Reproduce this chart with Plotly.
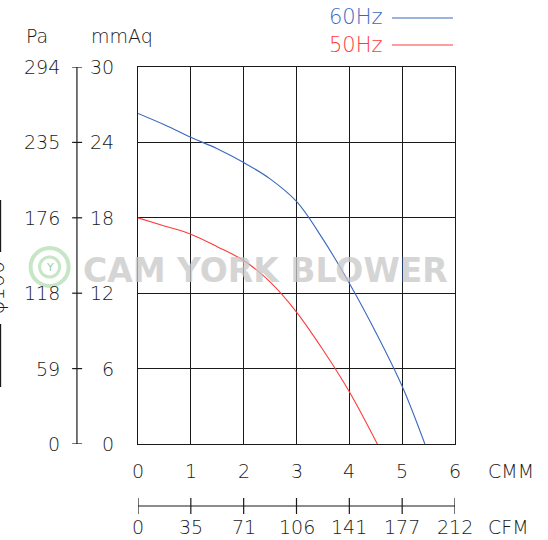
import plotly.graph_objects as go

# ---- data ----
cmm_60 = [0, 0.5, 1, 1.5, 2, 2.5, 3, 3.5, 4, 4.5, 5, 5.43]
p_60 = [26.3, 25.4, 24.4, 23.5, 22.4, 21.1, 19.3, 16.3, 12.8, 8.9, 4.6, 0]
cmm_50 = [0, 0.5, 1, 1.5, 2, 2.5, 3, 3.5, 4, 4.53]
p_50 = [18.0, 17.35, 16.7, 15.7, 14.6, 12.9, 10.5, 7.5, 4.16, 0]

cmm_ticks = [0, 1, 2, 3, 4, 5, 6]
cfm_labels = ["0", "35", "71", "106", "141", "177", "212"]
mmaq_ticks = [0, 6, 12, 18, 24, 30]
pa_labels = ["0", "59", "118", "176", "235", "294"]

BLUE = "#3a68bf"
RED = "#ff3b3b"
INK = "#1a1a1a"
FONT = "DejaVu Sans"
FW = 200

W, H = 548, 540
X0, X1 = 138.3, 455.0   # plot area pixel edges
Y0, Y1 = 67.0, 444.0


def px(x):
    return (x - X0) / (X1 - X0)


def py(y):
    return (Y1 - y) / (Y1 - Y0)


def f(size, color=INK):
    return dict(family=FONT, size=size, color=color, weight=FW)


fig = go.Figure()
fig.add_trace(go.Scatter(x=cmm_60, y=p_60, mode="lines", line=dict(color=BLUE, width=1.1, shape="spline", smoothing=1),
                         name="60Hz", showlegend=False, hoverinfo="skip"))
fig.add_trace(go.Scatter(x=cmm_50, y=p_50, mode="lines", line=dict(color=RED, width=1.1, shape="spline", smoothing=1),
                         name="50Hz", showlegend=False, hoverinfo="skip"))

shapes = []
ann = []

# left pressure axis
shapes.append(dict(type="line", xref="paper", yref="y", x0=px(77.3), x1=px(77.3), y0=0, y1=30,
                   line=dict(color=INK, width=1.2)))
for v, pl in zip(mmaq_ticks, pa_labels):
    shapes.append(dict(type="line", xref="paper", yref="y", x0=px(72.5), x1=px(82.5), y0=v, y1=v,
                       line=dict(color=INK, width=1.2)))
    ann.append(dict(xref="paper", yref="y", x=px(62), y=v, text=pl, xanchor="right", yanchor="middle",
                    showarrow=False, font=f(19)))
    ann.append(dict(xref="paper", yref="y", x=px(116), y=v, text=str(v), xanchor="right", yanchor="middle",
                    showarrow=False, font=f(19)))

ann.append(dict(xref="paper", yref="paper", x=px(24), y=py(36), text="Pa", xanchor="left", yanchor="middle",
                showarrow=False, font=f(19)))
ann.append(dict(xref="paper", yref="paper", x=px(89), y=py(36), text="mmAq", xanchor="left", yanchor="middle",
                showarrow=False, font=f(19)))

# CMM labels
for v in cmm_ticks:
    ann.append(dict(xref="x", yref="paper", x=v, y=py(471), text=str(v), xanchor="center", yanchor="middle",
                    showarrow=False, font=f(19)))
ann.append(dict(xref="paper", yref="paper", x=px(486), y=py(471), text="CMM", xanchor="left", yanchor="middle",
                showarrow=False, font=f(19)))

# CFM axis
shapes.append(dict(type="line", xref="x", yref="paper", x0=0, x1=6, y0=py(506), y1=py(506),
                   line=dict(color=INK, width=1.2)))
for v, lab in zip(cmm_ticks, cfm_labels):
    shapes.append(dict(type="line", xref="x", yref="paper", x0=v, x1=v, y0=py(498), y1=py(514),
                       line=dict(color=INK, width=1.2)))
    ann.append(dict(xref="x", yref="paper", x=v, y=py(527), text=lab, xanchor="center", yanchor="middle",
                    showarrow=False, font=f(19)))
ann.append(dict(xref="paper", yref="paper", x=px(486), y=py(527), text="CFM", xanchor="left", yanchor="middle",
                showarrow=False, font=f(19)))

# legend
ann.append(dict(xref="paper", yref="paper", x=px(385), y=py(17), text="60Hz", xanchor="right", yanchor="middle",
                showarrow=False, font=f(21, BLUE)))
shapes.append(dict(type="line", xref="paper", yref="paper", x0=px(392), x1=px(453), y0=py(18), y1=py(18),
                   line=dict(color=BLUE, width=1.2)))
ann.append(dict(xref="paper", yref="paper", x=px(385), y=py(45), text="50Hz", xanchor="right", yanchor="middle",
                showarrow=False, font=f(21, RED)))
shapes.append(dict(type="line", xref="paper", yref="paper", x0=px(392), x1=px(453), y0=py(45), y1=py(45),
                   line=dict(color=RED, width=1.2)))

# left-edge dimension (phi100)
shapes.append(dict(type="line", xref="paper", yref="paper", x0=px(1), x1=px(1), y0=py(200), y1=py(252),
                   line=dict(color=INK, width=1.2)))
shapes.append(dict(type="line", xref="paper", yref="paper", x0=px(1), x1=px(1), y0=py(324), y1=py(387),
                   line=dict(color=INK, width=1.2)))
ann.append(dict(xref="paper", yref="paper", x=px(-3), y=py(288), text="φ100", textangle=-90,
                xanchor="center", yanchor="middle", showarrow=False, font=f(21)))

# watermark
shapes.append(dict(type="circle", xref="paper", yref="paper", x0=px(31), x1=px(69), y0=py(248), y1=py(286),
                   line=dict(color="#b9e0b9", width=4), fillcolor="rgba(0,0,0,0)", opacity=0.8))
shapes.append(dict(type="circle", xref="paper", yref="paper", x0=px(40), x1=px(60), y0=py(257), y1=py(277),
                   line=dict(color="#b9e0b9", width=3), fillcolor="rgba(0,0,0,0)", opacity=0.8))
ann.append(dict(xref="paper", yref="paper", x=px(50), y=py(267), text="Y", xanchor="center", yanchor="middle",
                showarrow=False, font=dict(family=FONT, size=11, color="#9ccf9c")))
ann.append(dict(xref="paper", yref="paper", x=px(266), y=py(270), text="CAM YORK BLOWER", xanchor="center",
                yanchor="middle", showarrow=False, opacity=0.75,
                font=dict(family=FONT, size=33, color="#c8c8c8", weight="bold")))

fig.update_layout(
    width=W, height=H,
    margin=dict(l=X0, r=W - X1, t=Y0, b=H - Y1, pad=0),
    paper_bgcolor="white", plot_bgcolor="white",
    showlegend=False, hovermode=False,
    shapes=shapes, annotations=ann,
    xaxis=dict(range=[0, 6], dtick=1, showgrid=True, gridcolor=INK, gridwidth=1.2, zeroline=False,
               showline=True, linecolor=INK, linewidth=1.2, mirror=True, showticklabels=False, ticks=""),
    yaxis=dict(range=[0, 30], dtick=6, showgrid=True, gridcolor=INK, gridwidth=1.2, zeroline=False,
               showline=True, linecolor=INK, linewidth=1.2, mirror=True, showticklabels=False, ticks=""),
)

fig.write_html("out.html", config={"displayModeBar": False},
               post_script="document.body.style.margin='0';")
